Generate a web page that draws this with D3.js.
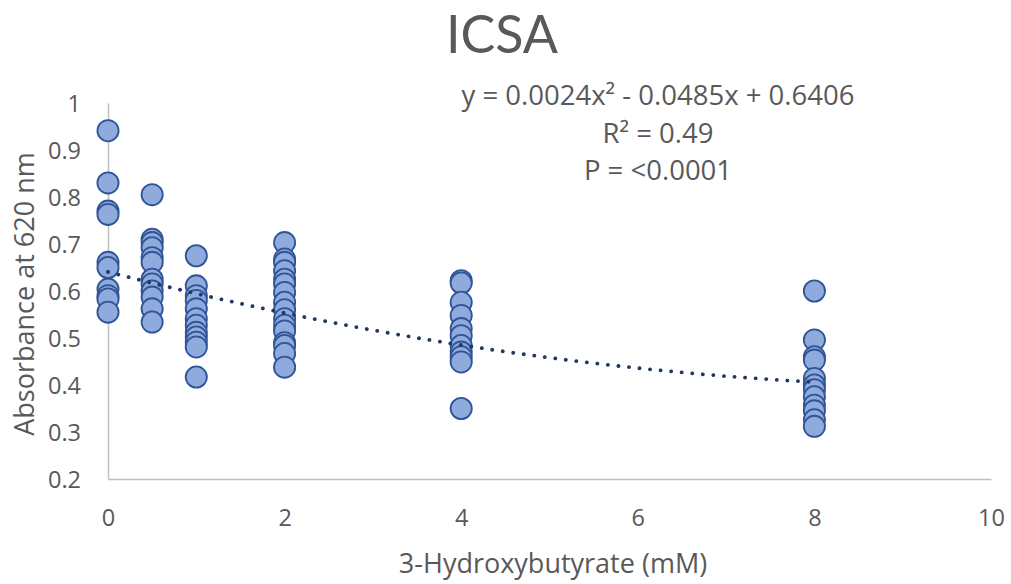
<!DOCTYPE html>
<html>
<head>
<meta charset="utf-8">
<script src="https://cdn.jsdelivr.net/npm/d3@7"></script>
<style>
  html, body { margin: 0; padding: 0; background: #fff; }
  svg { display: block; }
  text { font-family: "Open Sans", "Lato", sans-serif; fill: #595959; }
</style>
</head>
<body>
<svg id="chart" width="1011" height="584"></svg>
<script>
// ---- Data ----
const concentrations = [0, 0.5, 1, 2, 4, 8];
const absorbance0   = [0.941, 0.830, 0.770, 0.763, 0.661, 0.650, 0.604, 0.590, 0.583, 0.555];
const absorbance05  = [0.805, 0.710, 0.703, 0.692, 0.671, 0.661, 0.625, 0.615, 0.600, 0.587, 0.562, 0.534];
const absorbance1   = [0.675, 0.611, 0.590, 0.580, 0.562, 0.541, 0.527, 0.512, 0.502, 0.491, 0.481, 0.417];
const absorbance2   = [0.703, 0.668, 0.661, 0.643, 0.625, 0.615, 0.597, 0.576, 0.560, 0.541, 0.527, 0.515, 0.490, 0.484, 0.467, 0.438];
const absorbance4   = [0.622, 0.617, 0.576, 0.548, 0.520, 0.505, 0.484, 0.470, 0.460, 0.449, 0.350];
const absorbance8   = [0.600, 0.496, 0.460, 0.453, 0.414, 0.400, 0.390, 0.375, 0.357, 0.345, 0.326, 0.312];
const seriesValues = [absorbance0, absorbance05, absorbance1, absorbance2, absorbance4, absorbance8];

const xTicks = [0, 2, 4, 6, 8, 10];
const yTicks = [0.2, 0.3, 0.4, 0.5, 0.6, 0.7, 0.8, 0.9, 1];
const trendCoef = { a: 0.0024, b: -0.0485, c: 0.6406 };
const trendRange = [0, 8];

const title = "ICSA";
const xTitle = "3-Hydroxybutyrate (mM)";
const yTitle = "Absorbance at 620 nm";
const annotation = ["y = 0.0024x² - 0.0485x + 0.6406", "R² = 0.49", "P = <0.0001"];

// ---- Layout ----
const svg = d3.select("#chart");
const plot = { left: 108, right: 991, top: 103, bottom: 479 };

const x = d3.scaleLinear().domain([0, 10]).range([plot.left, plot.right]);
const y = d3.scaleLinear().domain([0.2, 1]).range([plot.bottom, plot.top]);

// Axes
const xAxis = d3.axisBottom(x).tickValues(xTicks).tickSize(0).tickPadding(0).tickFormat(d3.format("d"));
const yAxis = d3.axisLeft(y).tickValues(yTicks).tickSize(0).tickPadding(0).tickFormat(d => d === 1 ? "1" : d3.format(".1f")(d));

const gx = svg.append("g").attr("transform", `translate(0,${plot.bottom})`).call(xAxis);
gx.select(".domain").attr("stroke", "#bfbfbf").attr("stroke-width", 1.5);
gx.selectAll(".tick text").attr("dy", null).attr("y", 47).attr("font-size", 23.5).attr("fill", "#595959")
  .style("font-family", "'Open Sans'");

const gy = svg.append("g").attr("transform", `translate(${plot.left},0)`).call(yAxis);
gy.select(".domain").attr("stroke", "#bfbfbf").attr("stroke-width", 1.5);
gy.selectAll(".tick text").attr("x", -27).attr("dy", "0.35em").attr("font-size", 23.5).attr("fill", "#595959")
  .style("font-family", "'Open Sans'");

// Points
const points = [];
concentrations.forEach((c, i) => seriesValues[i].forEach(v => points.push({ x: c, y: v })));

svg.append("g").selectAll("circle").data(points).join("circle")
  .attr("cx", d => x(d.x))
  .attr("cy", d => y(d.y))
  .attr("r", 10.6)
  .attr("fill", "#8faadc")
  .attr("stroke", "#2f5597")
  .attr("stroke-width", 1.8);

// Trendline (polynomial from the displayed equation)
const trendX = d3.range(trendRange[0], trendRange[1] + 0.001, 0.05);
const trendLine = d3.line()
  .x(d => x(d))
  .y(d => y(trendCoef.a * d * d + trendCoef.b * d + trendCoef.c));
svg.append("path")
  .datum(trendX)
  .attr("d", trendLine)
  .attr("fill", "none")
  .attr("stroke", "#203864")
  .attr("stroke-width", 3.8)
  .attr("stroke-linecap", "round")
  .attr("stroke-dasharray", "0.1 10.5");

// Title
svg.append("text").attr("x", 502).attr("y", 53).attr("text-anchor", "middle")
  .style("font-family", "Lato").attr("font-size", 52).text(title);

// Axis titles
svg.append("text").attr("x", 553).attr("y", 573).attr("text-anchor", "middle")
  .attr("font-size", 27).text(xTitle);
svg.append("text").attr("transform", "translate(34,294) rotate(-90)").attr("text-anchor", "middle")
  .attr("font-size", 27).text(yTitle);

// Annotation
svg.append("g").selectAll("text").data(annotation).join("text")
  .attr("x", 658)
  .attr("y", (d, i) => 105 + i * 37.5)
  .attr("text-anchor", "middle")
  .attr("font-size", 27.5)
  .text(d => d);
</script>
</body>
</html>
